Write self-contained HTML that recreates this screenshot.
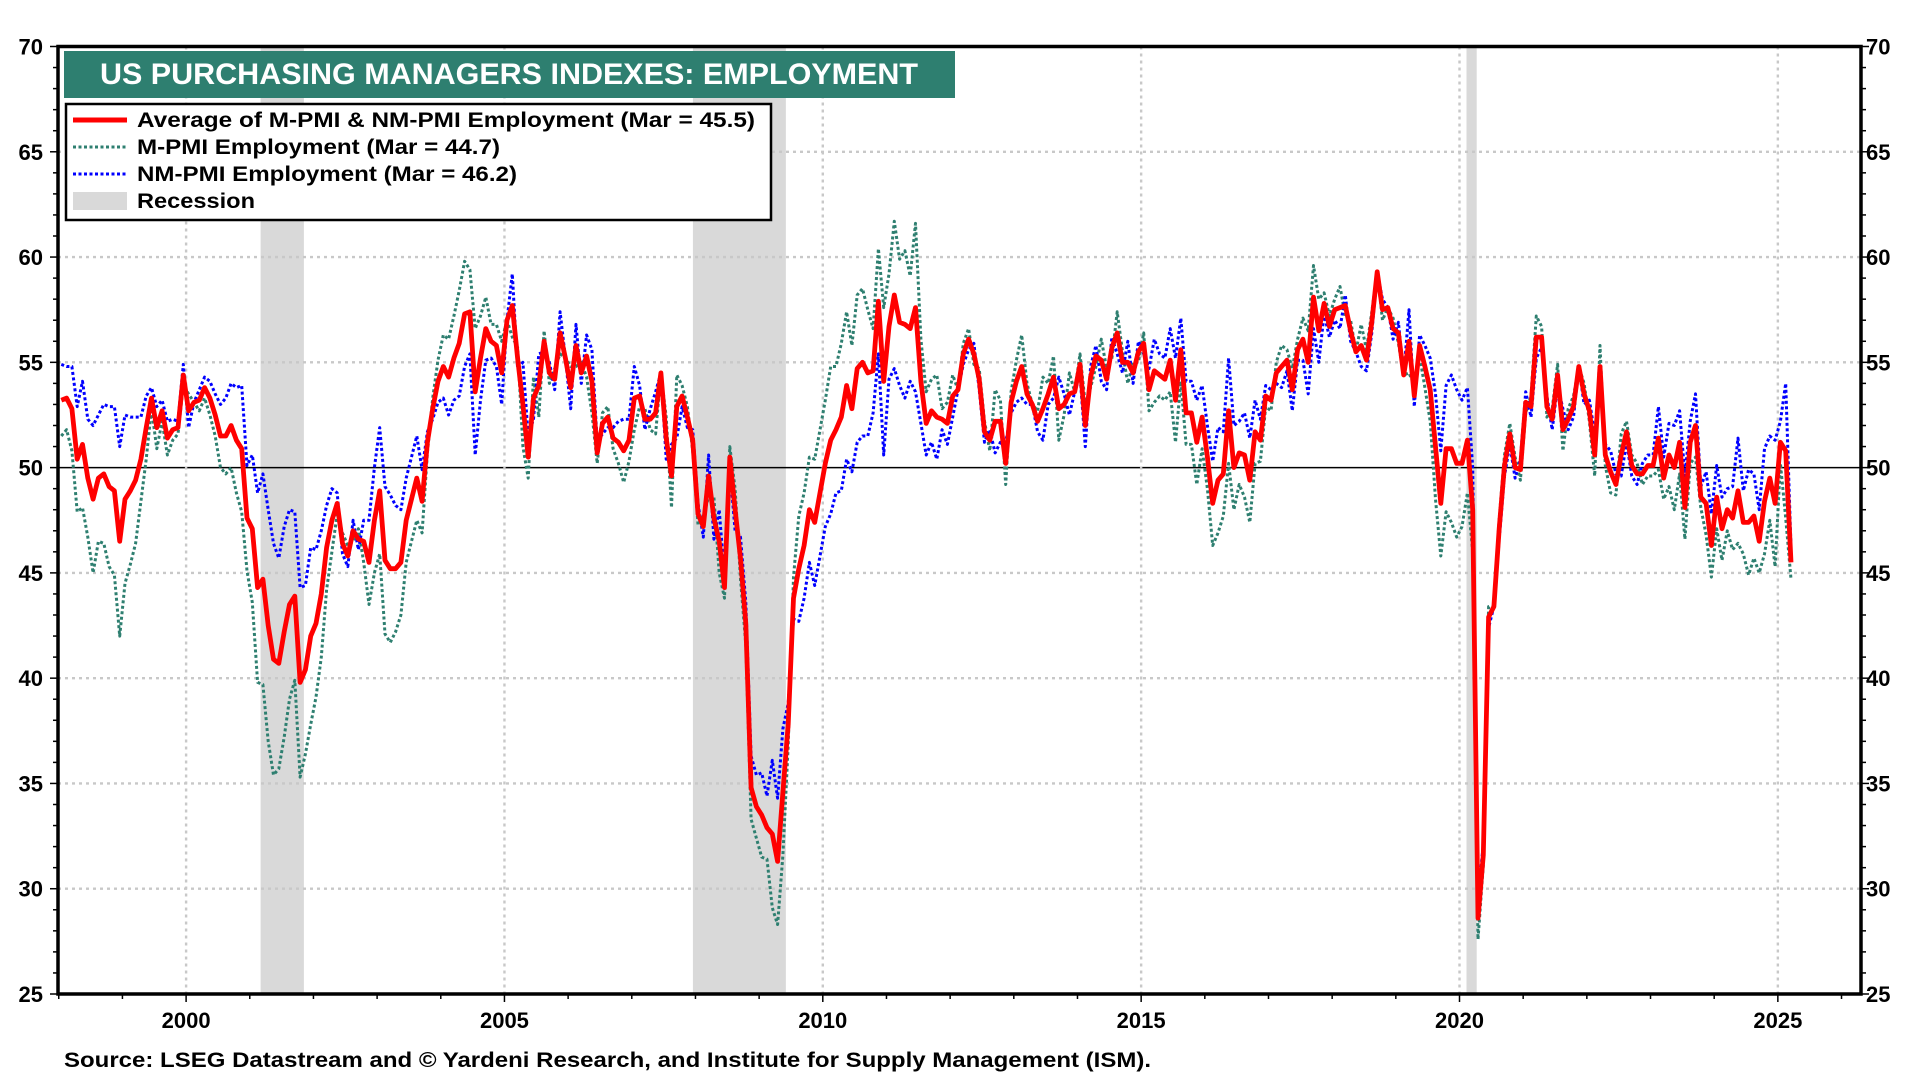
<!DOCTYPE html>
<html><head><meta charset="utf-8"><style>
html,body{margin:0;padding:0;background:#fff;}
svg{display:block;font-family:"Liberation Sans",Arial,sans-serif;}
</style></head><body>
<svg id="chart" width="1920" height="1080" viewBox="0 0 1920 1080" xmlns="http://www.w3.org/2000/svg">
<rect x="0" y="0" width="1920" height="1080" fill="#fff"/>
<g id="rec"></g><g id="grid"></g><g id="series"></g><g id="axes"></g>
<g>
<rect x="64" y="51" width="891" height="47" fill="#2e7f70"/>
<text x="100" y="84" fill="#fff" font-weight="bold" font-size="30" textLength="818" lengthAdjust="spacingAndGlyphs">US PURCHASING MANAGERS INDEXES: EMPLOYMENT</text>
</g>
<g>
<rect x="66" y="104" width="705" height="116" fill="#fff" stroke="#000" stroke-width="2.5"/>
<g>
<line x1="73" y1="120" x2="127" y2="120" stroke="#ff0000" stroke-width="5"/>
<text x="137" y="127" font-size="21" font-weight="bold" textLength="618" lengthAdjust="spacingAndGlyphs">Average of M-PMI &amp; NM-PMI Employment  (Mar = 45.5)</text></g>
<g>
<line x1="73" y1="147" x2="127" y2="147" stroke="#2e7f70" stroke-width="3" stroke-dasharray="3,2.5"/>
<text x="137" y="154" font-size="21" font-weight="bold" textLength="363" lengthAdjust="spacingAndGlyphs">M-PMI Employment (Mar = 44.7)</text></g>
<g>
<line x1="73" y1="174" x2="127" y2="174" stroke="#0000ff" stroke-width="3" stroke-dasharray="3,2.5"/>
<text x="137" y="181" font-size="21" font-weight="bold" textLength="380" lengthAdjust="spacingAndGlyphs">NM-PMI Employment (Mar = 46.2)</text></g>
<g>
<rect x="73" y="192" width="54" height="18" fill="#d9d9d9"/>
<text x="137" y="208" font-size="21" font-weight="bold" textLength="118" lengthAdjust="spacingAndGlyphs">Recession</text></g>
</g>
<text x="64" y="1067" font-size="21" font-weight="bold" textLength="1087" lengthAdjust="spacingAndGlyphs">Source: LSEG Datastream and © Yardeni Research, and Institute for Supply Management (ISM).</text>
</svg>
<script>
const startYear = 1998;
const avgVals = [
53.2,53.3,52.8,50.4,51.1,49.5,48.5,49.5,49.7,49.1,48.9,46.5,
48.5,48.9,49.4,50.4,51.9,53.3,51.9,52.7,51.4,51.8,51.9,54.4,
52.7,53.1,53.2,53.8,53.3,52.5,51.5,51.5,52.0,51.3,50.9,47.6,
47.1,44.3,44.7,42.5,40.9,40.7,42.2,43.5,43.9,39.8,40.4,42.0,
42.6,44.0,46.2,47.5,48.3,46.4,45.8,47.0,46.6,46.5,45.5,47.5,
48.9,45.6,45.2,45.2,45.5,47.5,48.5,49.5,48.4,51.2,52.8,54.1,
54.8,54.3,55.2,55.9,57.3,57.4,53.6,55.2,56.6,56.0,55.8,54.5,
57.0,57.7,55.2,53.0,50.5,53.3,53.9,56.0,54.5,54.2,56.4,55.2,
53.8,55.8,54.5,55.3,54.1,50.7,52.1,52.4,51.4,51.2,50.8,51.3,
53.3,53.4,52.3,52.3,52.6,54.5,51.4,49.6,52.9,53.4,52.4,51.3,
47.8,47.2,49.6,47.6,46.5,44.3,50.5,48.0,45.7,42.6,34.8,33.9,
33.5,32.9,32.6,31.3,34.6,37.8,43.8,45.2,46.3,48.0,47.4,48.8,
50.2,51.3,51.8,52.4,53.9,52.8,54.7,55.0,54.5,54.6,57.9,54.1,
56.7,58.2,56.9,56.8,56.6,57.6,54.1,52.1,52.7,52.4,52.3,52.1,
53.4,53.7,55.4,56.1,55.4,54.2,51.7,51.3,52.2,52.2,50.2,53.1,
54.1,54.8,53.5,53.0,52.2,52.8,53.5,54.3,52.8,53.0,53.5,53.6,
54.9,52.0,54.3,55.3,55.1,54.2,55.7,56.4,55.0,55.0,54.5,55.5,
55.9,53.7,54.6,54.4,54.2,55.1,53.2,55.6,52.6,52.6,51.2,52.4,
50.5,48.3,49.4,49.7,52.7,50.0,50.7,50.6,49.4,51.7,51.3,53.4,
53.2,54.5,54.8,55.1,53.7,55.6,56.1,55.0,58.1,56.5,57.8,56.7,
57.5,57.6,57.7,56.5,55.5,55.8,55.1,56.9,59.3,57.5,57.6,56.6,
56.4,54.4,56.0,53.4,55.8,54.8,53.7,51.0,48.3,50.9,50.9,50.2,
50.2,51.3,48.0,28.6,31.6,42.9,43.4,47.1,50.1,51.6,50.0,49.9,
53.1,52.9,56.2,56.2,52.9,52.3,54.4,51.8,52.3,52.9,54.8,53.5,
52.7,50.6,54.8,50.6,49.8,49.2,50.6,51.7,50.1,49.7,49.7,50.1,
50.1,51.4,49.5,50.6,50.0,51.2,48.1,51.2,52.0,48.6,48.3,46.3,
48.6,47.1,48.0,47.6,48.9,47.4,47.4,47.7,46.5,48.4,49.5,48.3,
51.2,50.8,45.5];
const mVals = [
51.5,51.8,50.8,47.9,48.1,46.7,45.0,46.5,46.4,45.3,44.9,42.0,
44.5,45.4,46.4,48.4,50.4,52.8,50.9,52.2,50.6,51.3,51.6,53.9,
53.5,53.1,52.7,53.3,52.5,51.5,50.0,49.7,50.0,48.8,47.9,45.1,
43.6,39.8,39.7,37.0,35.4,35.7,37.2,39.0,39.9,35.3,36.4,37.8,
39.1,41.0,44.2,46.0,47.8,46.9,46.3,46.5,47.1,45.5,43.5,45.0,
45.9,42.1,41.7,42.2,43.0,45.5,46.5,47.5,46.9,50.7,53.3,55.1,
56.3,56.1,57.2,58.4,59.8,59.4,56.6,57.2,58.1,56.8,56.8,56.0,
57.0,56.2,55.7,51.0,49.5,54.3,52.4,56.5,54.0,54.7,55.4,55.2,
54.8,54.8,55.0,54.3,52.6,50.2,52.6,52.9,50.9,50.2,49.3,50.3,
51.8,52.9,52.8,51.8,51.6,54.5,52.4,48.1,54.4,53.9,52.9,50.8,
47.3,47.7,48.6,48.6,45.0,43.8,51.0,49.0,44.7,41.6,33.3,32.4,
31.5,31.4,29.1,28.3,31.6,36.8,44.8,47.7,48.8,50.5,50.4,51.8,
53.2,54.8,54.8,55.9,57.4,55.8,58.2,58.5,57.5,56.6,60.4,57.6,
59.2,61.7,59.9,60.3,59.1,61.6,56.1,53.6,54.2,54.4,52.8,53.1,
54.4,53.7,55.9,56.6,54.9,54.7,52.2,50.8,53.7,53.2,49.2,53.6,
55.1,56.3,54.0,53.0,52.7,54.3,54.0,55.3,51.3,52.5,54.5,53.6,
55.4,53.0,53.8,54.8,56.1,54.7,55.2,57.4,55.5,54.0,55.0,55.0,
56.4,52.7,53.1,53.4,53.2,53.6,51.2,54.1,51.1,51.1,49.2,50.9,
49.0,46.3,46.9,47.7,50.2,48.0,49.2,48.6,47.4,50.2,50.3,52.9,
52.7,55.0,55.8,55.6,54.7,56.1,57.1,56.5,59.6,58.0,58.3,57.2,
58.0,58.6,57.2,57.0,55.5,56.8,55.6,57.4,59.3,57.0,57.6,57.1,
55.9,54.4,54.5,53.9,55.3,53.8,52.2,48.5,45.8,47.9,47.4,46.7,
47.2,48.8,46.0,27.6,31.1,43.4,43.4,47.6,50.6,52.1,50.5,49.4,
52.6,53.4,57.2,56.7,52.4,52.8,54.9,50.8,52.8,53.4,54.8,54.0,
52.2,49.6,55.8,50.1,48.8,48.7,51.6,52.2,50.6,50.2,49.2,49.6,
49.6,49.9,48.5,49.1,48.0,49.7,46.6,50.2,50.5,48.1,46.8,44.8,
47.1,45.6,47.0,46.1,46.4,45.9,44.9,45.7,45.0,45.9,47.5,45.3,
50.2,47.6,44.7];
const nmVals = [
54.9,54.8,54.8,52.9,54.1,52.3,52.0,52.5,53.0,52.9,52.9,51.0,
52.5,52.4,52.4,52.4,53.4,53.8,52.9,53.2,52.2,52.3,52.2,54.9,
51.9,53.1,53.7,54.3,54.1,53.5,53.0,53.3,54.0,53.8,53.9,50.1,
50.6,48.8,49.7,48.0,46.4,45.7,47.2,48.0,47.9,44.3,44.4,46.2,
46.1,47.0,48.2,49.0,48.8,45.9,45.3,47.5,46.1,47.5,47.5,50.0,
51.9,49.1,48.7,48.2,48.0,49.5,50.5,51.5,49.9,51.7,52.3,53.1,
53.3,52.5,53.2,53.4,54.8,55.4,50.6,53.2,55.1,55.2,54.8,53.0,
57.0,59.2,54.7,55.0,51.5,52.3,55.4,55.5,55.0,53.7,57.4,55.2,
52.8,56.8,54.0,56.3,55.6,51.2,51.6,51.9,51.9,52.2,52.3,52.3,
54.8,53.9,51.8,52.8,53.6,54.5,50.4,51.1,51.4,52.9,51.9,51.8,
48.3,46.7,50.6,46.6,48.0,44.8,50.0,47.0,46.7,43.6,36.3,35.4,
35.5,34.4,36.1,34.3,37.6,38.8,42.8,42.7,43.8,45.5,44.4,45.8,
47.2,47.8,48.8,48.9,50.4,49.8,51.2,51.5,51.5,52.6,55.4,50.6,
54.2,54.7,53.9,53.3,54.1,53.6,52.1,50.6,51.2,50.4,51.8,51.1,
52.4,53.7,54.9,55.6,55.9,53.7,51.2,51.8,50.7,51.2,51.2,52.6,
53.1,53.3,53.0,53.0,51.7,51.3,53.0,53.3,54.3,53.5,52.5,53.6,
54.4,51.0,54.8,55.8,54.1,53.7,56.2,55.4,54.5,56.0,54.0,56.0,
55.4,54.7,56.1,55.4,55.2,56.6,55.2,57.1,54.1,54.1,53.2,53.9,
52.0,50.3,51.9,51.7,55.2,52.0,52.2,52.6,51.4,53.2,52.3,53.9,
53.7,54.0,53.8,54.6,52.7,55.1,55.1,53.5,56.6,55.0,57.3,56.2,
57.0,56.6,58.2,56.0,55.5,54.8,54.6,56.4,59.3,58.0,57.6,56.1,
56.9,54.4,57.5,52.9,56.3,55.8,55.2,53.5,50.8,53.9,54.4,53.7,
53.2,53.8,50.0,29.6,32.1,42.4,43.4,46.6,49.6,51.1,49.5,50.4,
53.6,52.4,55.2,55.7,53.4,51.8,53.9,52.8,51.8,52.4,54.8,53.0,
53.2,51.6,53.8,51.1,50.8,49.7,49.6,51.2,49.6,49.2,50.2,50.6,
50.6,52.9,50.5,52.1,52.0,52.7,49.6,52.2,53.5,49.1,49.8,47.8,
50.1,48.6,49.0,49.1,51.4,48.9,49.9,49.7,48.0,50.9,51.5,51.3,
52.2,54.0,46.2];
const recStarts = [2001.17, 2007.96, 2020.11];
const recEnds = [2001.85, 2009.42, 2020.27];
const yTicks = [25,30,35,40,45,50,55,60,65,70];
const xTickYears = [2000,2005,2010,2015,2020,2025];

const NS='http://www.w3.org/2000/svg';
const L=58, R=1861, T=46.5, B=994;
function xs(t){return 186.1+(t-2000)*63.67;}
function ys(v){return T+(70-v)*((B-T)/45);}
function mk(tag,attrs,parent){const e=document.createElementNS(NS,tag);for(const k in attrs)e.setAttribute(k,attrs[k]);parent.appendChild(e);return e;}
const gRec=document.getElementById('rec'),gGrid=document.getElementById('grid'),gSer=document.getElementById('series'),gAx=document.getElementById('axes');

recStarts.forEach((s,i)=>{
  const r=mk('rect',{x:xs(s),y:T,width:xs(recEnds[i])-xs(s),height:B-T,fill:'#d9d9d9'},gRec);
  
  
});
yTicks.forEach(v=>{
  if(v===25||v===70)return;
  const l=mk('line',{x1:L,x2:R,y1:ys(v),y2:ys(v),stroke:v===50?'#000':'#c8c8c8','stroke-width':v===50?1.5:2.4,'stroke-dasharray':v===50?'none':'3,4'},gGrid);
  
  
});
xTickYears.forEach(y=>{
  const l=mk('line',{x1:xs(y),x2:xs(y),y1:T,y2:B,stroke:'#c8c8c8','stroke-width':2.4,'stroke-dasharray':'3,4'},gGrid);
  
  
});
function path(vals,color,w,dash,name){
  let d='';
  vals.forEach((v,i)=>{const t=startYear+i/12+0.04;d+=(i?'L':'M')+xs(t).toFixed(1)+','+ys(v).toFixed(1);});
  const p=mk('path',{d:d,fill:'none',stroke:color,'stroke-width':w,'stroke-linejoin':'round'},gSer);
  if(dash)p.setAttribute('stroke-dasharray',dash);
  
  
}
path(mVals,'#2e7f70',3,'3,2.5','m-pmi-line');
path(nmVals,'#0000ff',3,'3,2.5','nm-pmi-line');
path(avgVals,'#ff0000',4.8,null,'average-line');

const frame=mk('rect',{x:L,y:T,width:R-L,height:B-T,fill:'none',stroke:'#000','stroke-width':3.5},gAx);


for(let v=25;v<=70;v++){
  const len=(v%5===0)?8:5;
  mk('line',{x1:L-len,x2:L,y1:ys(v),y2:ys(v),stroke:'#000','stroke-width':1.5},gAx);
  mk('line',{x1:R,x2:R+len,y1:ys(v),y2:ys(v),stroke:'#000','stroke-width':1.5},gAx);
}
yTicks.forEach(v=>{
  const a=mk('text',{x:43,y:ys(v)+8,'text-anchor':'end','font-size':22,'font-weight':'bold'},gAx);
  a.textContent=v;
  
  
  const b=mk('text',{x:1866,y:ys(v)+8,'text-anchor':'start','font-size':22,'font-weight':'bold'},gAx);
  b.textContent=v;
  
  
});
for(let y=1998;y<=2026;y++){
  const len=(y%5===0)?8:5;
  if(xs(y)<L||xs(y)>R)continue;
  mk('line',{x1:xs(y),x2:xs(y),y1:B,y2:B+len,stroke:'#000','stroke-width':1.5},gAx);
}
xTickYears.forEach(y=>{
  const t=mk('text',{x:xs(y),y:1028,'text-anchor':'middle','font-size':22,'font-weight':'bold'},gAx);
  t.textContent=y;
  
  
});
</script>
</body></html>
